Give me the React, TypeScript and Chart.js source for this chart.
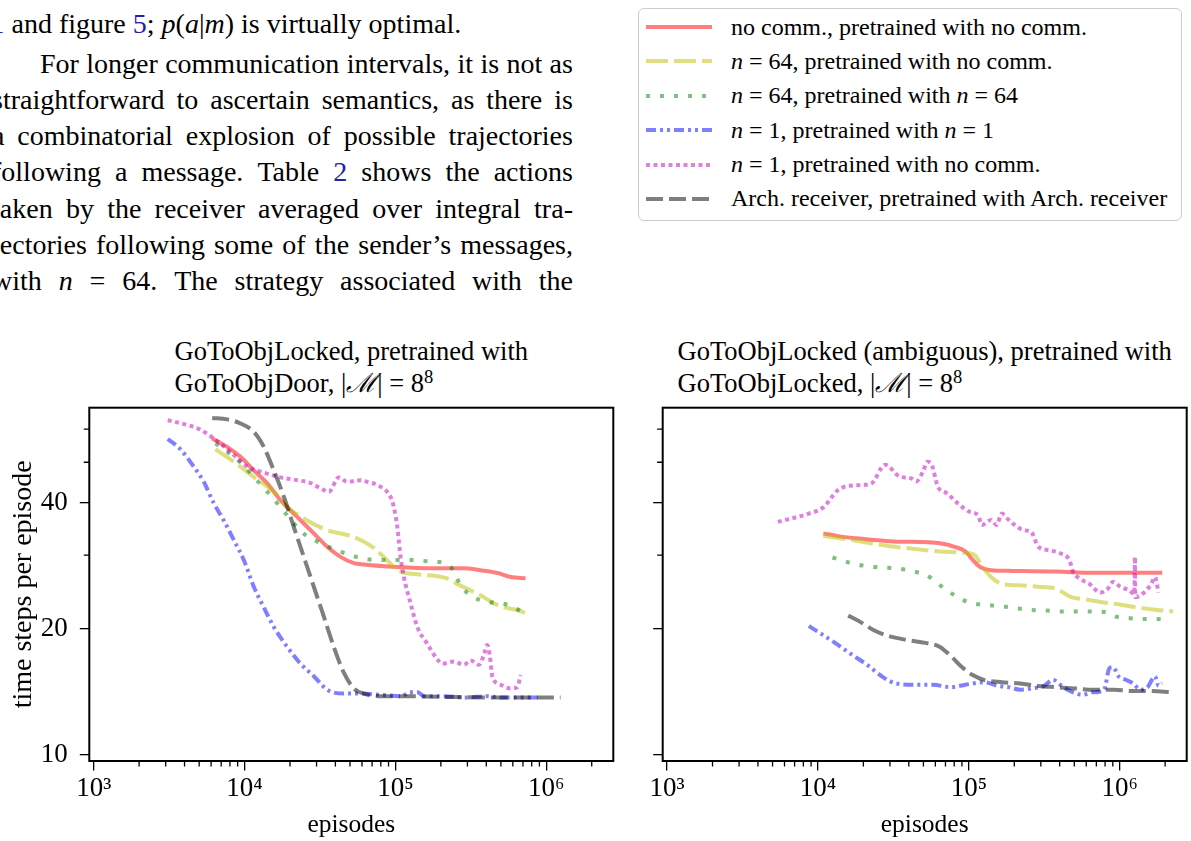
import React, { useEffect, useRef } from "react";
import { Chart, registerables } from "chart.js";

Chart.register(...registerables);

type Pt = [number, number];

// ---------------- axis values ----------------
const X_MIN = 935;
const X_MAX = 2.78e6;
const Y_MIN = 9.66;
const Y_MAX = 67.5;
const X_MAJOR = [1e3, 1e4, 1e5, 1e6];
const X_DECADES = [1e3, 1e4, 1e5, 1e6];
const X_MINOR_MULT = [2, 3, 4, 5, 6, 7, 8, 9];
const Y_MAJOR = [10, 20, 40];
const Y_MINOR = [30, 50, 60];
const SUP: Record<number, string> = { 3: "\u00B3", 4: "\u2074", 5: "\u2075", 6: "\u2076" };

// ---------------- left panel: GoToObjLocked, pretrained with GoToObjDoor ----------------
const L_NOCOMM: Pt[] = [
  [6100, 57.0], [7665, 54.4], [9395, 51.5], [11510, 47.8], [14130, 44.5], [17300, 40.6],
  [22330, 37.0], [28770, 33.8], [35300, 31.4], [43250, 29.7], [52990, 28.7], [61730, 28.5],
  [102800, 28.1], [171000, 27.9], [284200, 27.9], [366700, 27.6], [473300, 27.2],
  [579800, 26.6], [729000, 26.4],
];
const L_N64_NOCOMM: Pt[] = [
  [6412, 53.7], [8480, 50.1], [11510, 46.1], [15620, 42.5], [19160, 39.1], [26010, 36.3],
  [35300, 34.4], [47910, 33.5], [58700, 32.6], [71920, 31.2], [83750, 29.7], [97500, 28.1],
  [108100, 27.4], [139600, 27.0], [220600, 26.4], [256900, 25.6], [314800, 24.7],
  [385500, 23.8], [449200, 23.0], [551200, 22.4], [642400, 22.2], [748000, 21.7],
];
const L_N64_N64: Pt[] = [
  [6412, 55.5], [7855, 52.6], [9395, 49.9], [11230, 46.6], [13280, 43.6], [15620, 40.8],
  [18190, 38.2], [21200, 35.7], [25340, 33.5], [31040, 32.2], [39040, 31.0], [49080, 30.1],
  [61730, 29.4], [79620, 29.2], [102800, 29.2], [129200, 29.2], [162600, 29.0],
  [209400, 28.7], [243800, 27.5], [270200, 25.4], [322800, 23.9], [406000, 23.2],
  [510500, 23.0], [625500, 22.4], [748000, 21.4],
];
const L_N1_N1: Pt[] = [
  [3095, 56.8], [3758, 53.7], [4603, 48.8], [5363, 44.9], [6249, 39.9], [7278, 36.3],
  [8480, 32.6], [9879, 29.2], [11510, 25.2], [13410, 22.5], [15620, 20.2], [19160, 18.1],
  [23490, 16.5], [28770, 15.4], [35300, 14.3], [45490, 14.0], [58700, 14.0], [80000, 13.9],
  [110000, 13.8], [125000, 14.1], [140000, 14.1], [155000, 13.8], [200000, 13.8],
  [300000, 13.7], [400000, 13.8], [500000, 13.7], [700000, 13.7], [900000, 13.7],
];
const L_N1_NOCOMM: Pt[] = [
  [3095, 63.0], [3758, 62.0], [5000, 60.0], [6249, 57.0], [7278, 54.6], [8929, 51.2],
  [10404, 48.8], [12750, 47.5], [17300, 46.0], [22330, 45.3], [27390, 44.6], [31920, 43.3],
  [36160, 42.5], [42140, 46.0], [47910, 44.9], [58700, 45.3], [65000, 44.9], [79620, 43.7],
  [92830, 41.3], [97500, 39.1], [102800, 35.1], [108100, 29.7], [113700, 26.6],
  [126000, 23.0], [139600, 20.2], [162600, 18.4], [189500, 16.9], [204300, 16.5],
  [243800, 16.7], [284200, 16.4], [314800, 16.8], [357300, 16.4], [385500, 17.3],
  [406000, 18.3], [422400, 17.2], [438500, 15.4], [497600, 14.7], [579800, 14.4],
  [642400, 14.5], [675700, 15.5],
];
const L_ARCH: Pt[] = [
  [6100, 63.8], [7665, 63.3], [9395, 61.9], [11510, 59.1], [13410, 54.4], [15620, 47.8],
  [18190, 41.4], [21200, 35.0], [24700, 29.7], [28770, 25.2], [33500, 21.4], [39040, 18.1],
  [45490, 15.7], [52990, 14.4], [61730, 14.0], [80000, 13.8], [102800, 13.8],
  [200000, 13.75], [400000, 13.7], [700000, 13.7], [1000000, 13.7], [1243000, 13.7],
];

// ---------------- right panel: GoToObjLocked (ambiguous), pretrained with GoToObjLocked ----------------
const R_NOCOMM: Pt[] = [
  [10860, 33.8], [13570, 33.3], [17920, 32.9], [23660, 32.6], [33040, 32.3], [41240, 32.3],
  [54450, 32.2], [64420, 32.0], [80400, 31.4], [95060, 30.6], [106100, 29.2], [118700, 28.1],
  [140300, 27.6], [195900, 27.5], [381500, 27.4], [665600, 27.2], [1160000, 27.2],
  [1915000, 27.2],
];
const R_N64_NOCOMM: Pt[] = [
  [10860, 33.3], [16950, 32.6], [26450, 31.7], [41240, 31.1], [64420, 30.6], [89880, 30.4],
  [109300, 30.0], [115400, 29.2], [125600, 27.9], [140300, 26.6], [165800, 25.6],
  [218800, 25.4], [289000, 25.2], [381500, 24.9], [414500, 24.5], [476400, 23.8],
  [595300, 23.5], [787800, 23.1], [1039000, 22.8], [1296000, 22.5], [1712000, 22.2],
  [2260000, 22.0],
];
const R_N64_N64: Pt[] = [
  [12480, 29.6], [16030, 28.8], [20040, 28.3], [26450, 28.0], [33040, 27.9], [41240, 27.5],
  [52970, 26.8], [64420, 25.4], [78220, 24.2], [97720, 23.2], [125600, 22.8], [156700, 22.7],
  [201300, 22.4], [251500, 22.2], [322700, 22.1], [414500, 22.0], [517700, 22.0],
  [647000, 22.0], [809000, 21.9], [982300, 21.3], [1160000, 21.2], [1371000, 21.1],
  [1620000, 21.1], [2022000, 21.0], [2139000, 20.8],
];
const R_N1_N1: Pt[] = [
  [8700, 20.3], [10860, 19.3], [13570, 18.3], [16950, 17.3], [21170, 16.4], [26450, 15.4],
  [33040, 14.8], [43650, 14.7], [57620, 14.7], [76030, 14.5], [95060, 14.7], [125600, 14.9],
  [156700, 14.6], [185400, 14.5], [218800, 14.3], [258500, 14.4], [314500, 14.6],
  [361400, 15.1], [403200, 14.7], [450500, 14.3], [517700, 14.0], [563200, 13.9],
  [665600, 14.1], [787800, 14.3], [854800, 16.1], [902800, 16.2], [982300, 15.4],
  [1097000, 15.1], [1227000, 14.8], [1371000, 14.3], [1531000, 14.5], [1712000, 15.4],
  [1810000, 14.6], [1915000, 14.8],
];
const R_N1_NOCOMM: Pt[] = [
  [5420, 36.0], [8700, 37.7], [10860, 39.0], [13570, 42.9], [16950, 44.0], [22370, 44.4],
  [27920, 49.3], [34900, 46.2], [41240, 45.8], [44850, 45.0], [50150, 47.9], [52970, 50.1],
  [56080, 49.7], [62560, 43.6], [71890, 42.1], [85070, 39.8], [100500, 38.1], [115400, 37.3],
  [121900, 35.4], [140300, 36.4], [152400, 35.4], [165800, 37.7], [175100, 37.0],
  [201300, 35.4], [231300, 34.4], [258500, 34.1], [289000, 31.4], [341300, 30.8],
  [403200, 30.3], [463300, 29.2], [490000, 27.4], [548000, 26.3], [629500, 25.6],
  [743500, 24.4], [831800, 24.9], [902800, 25.9], [1009000, 25.2], [1160000, 24.7],
  [1250000, 24.2], [1262000, 29.7], [1268000, 23.8], [1449000, 24.4], [1620000, 25.6],
  [1712000, 26.6], [1810000, 24.4],
];
const R_ARCH: Pt[] = [
  [15860, 21.5], [18940, 20.8], [23660, 19.8], [29580, 19.2], [39040, 18.8], [51520, 18.5],
  [64420, 18.1], [76030, 17.2], [89880, 16.2], [106100, 15.5], [125600, 15.1],
  [165800, 14.9], [218800, 14.8], [289000, 14.6], [381500, 14.5], [503500, 14.4],
  [665600, 14.3], [929000, 14.3], [1160000, 14.2], [1531000, 14.2], [2260000, 14.1],
];

// ---------------- styles ----------------
const SERIF = "'Liberation Serif', 'Times New Roman', Times, serif";
const TICK_FONT = 27;
const XLABEL_FONT = 25.5;
const YLABEL_FONT = 28;
const TITLE_FONT = 26.5;

type Style = { color: string; dash: number[]; width: number };
const S_NOCOMM: Style = { color: "rgba(255,0,0,0.5)", dash: [], width: 4 };
const S_N64_NOCOMM: Style = { color: "rgba(191,191,0,0.5)", dash: [22, 6], width: 4 };
const S_N64_N64: Style = { color: "rgba(0,128,0,0.5)", dash: [4, 10], width: 4 };
const S_N1_N1: Style = { color: "rgba(0,0,255,0.5)", dash: [10, 4, 3, 4, 3, 4], width: 4 };
const S_N1_NOCOMM: Style = { color: "rgba(191,0,191,0.5)", dash: [4, 3.5], width: 4 };
const S_ARCH: Style = { color: "rgba(0,0,0,0.5)", dash: [17, 6], width: 4 };

const LEGEND_ITEMS: { style: Style; label: React.ReactNode }[] = [
  { style: S_NOCOMM, label: <>no comm., pretrained with no comm.</> },
  { style: S_N64_NOCOMM, label: <><i>n</i> = 64, pretrained with no comm.</> },
  { style: S_N64_N64, label: <><i>n</i> = 64, pretrained with <i>n</i> = 64</> },
  { style: S_N1_N1, label: <><i>n</i> = 1, pretrained with <i>n</i> = 1</> },
  { style: S_N1_NOCOMM, label: <><i>n</i> = 1, pretrained with no comm.</> },
  { style: S_ARCH, label: <>Arch. receiver, pretrained with Arch. receiver</> },
];

const LEFT_SERIES: [Pt[], Style][] = [
  [L_NOCOMM, S_NOCOMM], [L_N64_NOCOMM, S_N64_NOCOMM], [L_N64_N64, S_N64_N64],
  [L_N1_N1, S_N1_N1], [L_N1_NOCOMM, S_N1_NOCOMM], [L_ARCH, S_ARCH],
];
const RIGHT_SERIES: [Pt[], Style][] = [
  [R_NOCOMM, S_NOCOMM], [R_N64_NOCOMM, S_N64_NOCOMM], [R_N64_N64, S_N64_N64],
  [R_N1_N1, S_N1_N1], [R_N1_NOCOMM, S_N1_NOCOMM], [R_ARCH, S_ARCH],
];

// ---------------- layout ----------------
const PANEL_TOP = 395;
const PANEL_H = 446;
const AREA_TOP = 12.7;
const AREA_BOTTOM = 366;
const MAJOR_LEN = 9.5;
const MINOR_LEN = 5.5;

const framePlugin = {
  id: "frameMinor",
  afterDraw(chart: any) {
    const { ctx, chartArea: a, scales } = chart;
    const xs = scales.x;
    const ys = scales.y;
    ctx.save();
    ctx.strokeStyle = "#000";
    ctx.lineWidth = 1.3;
    ctx.beginPath();
    X_DECADES.forEach((d) => {
      X_MINOR_MULT.forEach((m) => {
        const p = xs.getPixelForValue(d * m);
        if (p >= a.left && p <= a.right) {
          ctx.moveTo(p, a.bottom);
          ctx.lineTo(p, a.bottom + MINOR_LEN);
        }
      });
    });
    Y_MINOR.forEach((v) => {
      const p = ys.getPixelForValue(v);
      if (p >= a.top && p <= a.bottom) {
        ctx.moveTo(a.left, p);
        ctx.lineTo(a.left - MINOR_LEN, p);
      }
    });
    ctx.stroke();
    ctx.lineWidth = 2;
    ctx.strokeRect(a.left, a.top, a.right - a.left, a.bottom - a.top);
    ctx.restore();
  },
};

function Panel(props: {
  series: [Pt[], Style][];
  left: number;
  width: number;
  yWidth: number;
  padRight: number;
  showY: boolean;
}) {
  const ref = useRef<HTMLCanvasElement>(null);
  useEffect(() => {
    const tickFont = { family: SERIF, size: TICK_FONT };
    const datasets = props.series
      .slice()
      .reverse()
      .map(([pts, st]) => ({
        data: pts.map(([x, y]) => ({ x, y })),
        borderColor: st.color,
        borderWidth: st.width,
        borderDash: st.dash,
        borderCapStyle: "butt",
        borderJoinStyle: "round",
        pointRadius: 0,
        fill: false,
        cubicInterpolationMode: "monotone",
      }));
    const chart = new Chart(ref.current as HTMLCanvasElement, {
      type: "line",
      data: { datasets } as any,
      options: {
        animation: false,
        responsive: false,
        maintainAspectRatio: false,
        events: [],
        layout: { padding: { left: 0, top: AREA_TOP, right: props.padRight, bottom: 0 } },
        plugins: { legend: { display: false }, tooltip: { enabled: false }, title: { display: false } },
        scales: {
          x: {
            type: "logarithmic",
            min: X_MIN,
            max: X_MAX,
            afterBuildTicks: (s: any) => {
              s.ticks = X_MAJOR.map((v) => ({ value: v }));
            },
            afterFit: (s: any) => {
              s.height = PANEL_H - AREA_BOTTOM;
              s.paddingLeft = 0;
              s.paddingRight = 0;
            },
            ticks: {
              font: tickFont,
              color: "#000",
              padding: 2,
              maxRotation: 0,
              autoSkip: false,
              callback: (v: any) => "10" + SUP[Math.round(Math.log10(Number(v)))],
            },
            grid: { drawOnChartArea: false, drawTicks: true, tickLength: MAJOR_LEN, color: "#000", lineWidth: 1.3 },
            border: { display: false },
            title: {
              display: true,
              text: "episodes",
              font: { family: SERIF, size: XLABEL_FONT },
              color: "#000",
              padding: { top: 0, bottom: 0 },
            },
          },
          y: {
            type: "logarithmic",
            min: Y_MIN,
            max: Y_MAX,
            afterBuildTicks: (s: any) => {
              s.ticks = Y_MAJOR.map((v) => ({ value: v }));
            },
            afterFit: (s: any) => {
              s.width = props.yWidth;
              s.paddingTop = 0;
              s.paddingBottom = 0;
            },
            ticks: {
              display: props.showY,
              font: tickFont,
              color: "#000",
              padding: 12,
              autoSkip: false,
              callback: (v: any) => String(v),
            },
            grid: { drawOnChartArea: false, drawTicks: true, tickLength: MAJOR_LEN, color: "#000", lineWidth: 1.3 },
            border: { display: false },
            title: {
              display: props.showY,
              text: "time steps per episode",
              font: { family: SERIF, size: YLABEL_FONT },
              color: "#000",
              padding: { top: 7, bottom: 0 },
            },
          },
        },
      } as any,
      plugins: [framePlugin],
    });
    return () => chart.destroy();
  }, []);
  return (
    <canvas
      ref={ref}
      width={props.width}
      height={PANEL_H}
      style={{ position: "absolute", left: props.left, top: PANEL_TOP, width: props.width, height: PANEL_H }}
    />
  );
}

// ---------------- page text ----------------
const LINK = "#23239a";
const BODY_SIZE = 28;
const BODY_LH = 36;
const BODY_LEFT = -8;
const BODY_RIGHT = 573;
const BODY_BASELINES = [33, 73, 109.3, 145.6, 181.9, 218.2, 254.5, 290.8];

function topFor(baseline: number, size: number, lh: number) {
  return baseline - ((lh - size * 1.107) / 2 + size * 0.891);
}

function JLine(props: { baseline: number; indent?: number; words: React.ReactNode[] }) {
  return (
    <div
      style={{
        position: "absolute",
        left: BODY_LEFT,
        top: topFor(props.baseline, BODY_SIZE, BODY_LH),
        width: BODY_RIGHT - BODY_LEFT,
        height: BODY_LH,
        lineHeight: BODY_LH + "px",
        fontSize: BODY_SIZE,
        display: "flex",
        justifyContent: "space-between",
        whiteSpace: "nowrap",
        paddingLeft: props.indent || 0,
        boxSizing: "border-box",
      }}
    >
      {props.words.map((w, i) => (
        <span key={i}>{w}</span>
      ))}
    </div>
  );
}

function sp(s: string): React.ReactNode[] {
  return s.split(" ");
}

function Title(props: { center: number; l1: React.ReactNode; l2: React.ReactNode }) {
  const lh = 32;
  return (
    <div
      style={{
        position: "absolute",
        left: props.center,
        top: topFor(360, TITLE_FONT, lh),
        transform: "translateX(-50%)",
        textAlign: "left",
        whiteSpace: "nowrap",
        fontSize: TITLE_FONT,
        lineHeight: lh + "px",
      }}
    >
      <div>{props.l1}</div>
      <div>{props.l2}</div>
    </div>
  );
}

const Msym = () => (
  <span>
    |<span style={{ fontStyle: "italic" }}>{"\u2133"}</span>| = 8
    <span style={{ fontSize: "0.7em", position: "relative", top: "-0.5em" }}>8</span>
  </span>
);

export default function App() {
  return (
    <div
      style={{
        position: "absolute",
        left: 0,
        top: 0,
        width: 1191,
        height: 841,
        overflow: "hidden",
        background: "#fff",
        fontFamily: SERIF,
        color: "#000",
      }}
    >
      {/* body text */}
      <div
        style={{
          position: "absolute",
          left: -9.5,
          top: topFor(BODY_BASELINES[0], BODY_SIZE, BODY_LH),
          fontSize: BODY_SIZE,
          lineHeight: BODY_LH + "px",
          whiteSpace: "nowrap",
        }}
      >
        <span style={{ color: LINK }}>1</span> and figure <span style={{ color: LINK }}>5</span>;{" "}
        <i>p</i>(<i>a</i>|<i>m</i>) is virtually optimal.
      </div>
      <JLine baseline={BODY_BASELINES[1]} indent={48} words={sp("For longer communication intervals, it is not as")} />
      <JLine baseline={BODY_BASELINES[2]} words={sp("straightforward to ascertain semantics, as there is")} />
      <JLine baseline={BODY_BASELINES[3]} words={sp("a combinatorial explosion of possible trajectories")} />
      <JLine
        baseline={BODY_BASELINES[4]}
        words={["following", "a", "message.", "Table", <span style={{ color: LINK }}>2</span>, "shows", "the", "actions"]}
      />
      <JLine baseline={BODY_BASELINES[5]} words={sp("taken by the receiver averaged over integral tra-")} />
      <JLine baseline={BODY_BASELINES[6]} words={sp("jectories following some of the sender\u2019s messages,")} />
      <JLine
        baseline={BODY_BASELINES[7]}
        words={["with", <i>n</i>, "=", "64.", "The", "strategy", "associated", "with", "the"]}
      />

      {/* legend */}
      <div
        style={{
          position: "absolute",
          left: 638,
          top: 8,
          width: 544,
          height: 213,
          border: "1.5px solid #cccccc",
          borderRadius: 6,
          boxSizing: "border-box",
          background: "#fff",
        }}
      />
      {LEGEND_ITEMS.map((it, i) => {
        const ly = 26.5 + i * 34.5;
        const ty = 29.3 + i * 34.3;
        return (
          <React.Fragment key={i}>
            <svg width={72} height={12} style={{ position: "absolute", left: 644, top: ly - 6 }}>
              <line
                x1={2}
                y1={6}
                x2={68}
                y2={6}
                stroke={it.style.color}
                strokeWidth={4}
                strokeDasharray={it.style.dash.length ? it.style.dash.join(" ") : undefined}
              />
            </svg>
            <div
              style={{
                position: "absolute",
                left: 731,
                top: ty - 19.6,
                fontSize: 24,
                lineHeight: "34px",
                whiteSpace: "nowrap",
              }}
            >
              {it.label}
            </div>
          </React.Fragment>
        );
      })}

      {/* panel titles */}
      <Title center={351.3} l1={<>GoToObjLocked, pretrained with</>} l2={<>GoToObjDoor, <Msym /></>} />
      <Title
        center={924.7}
        l1={<>GoToObjLocked (ambiguous), pretrained with</>}
        l2={<>GoToObjLocked, <Msym /></>}
      />

      {/* charts */}
      <Panel series={LEFT_SERIES} left={0} width={640} yWidth={89.3} padRight={640 - 613.3} showY={true} />
      <Panel series={RIGHT_SERIES} left={640} width={551} yWidth={22.7} padRight={551 - 546.7} showY={false} />
    </div>
  );
}
